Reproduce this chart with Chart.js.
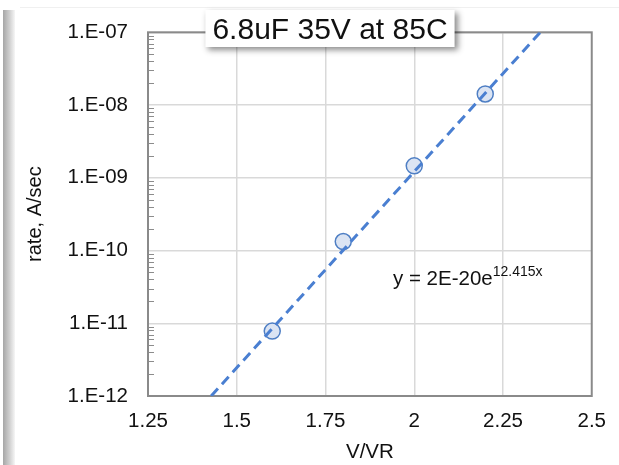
<!DOCTYPE html>
<html>
<head>
<meta charset="utf-8">
<script src="https://cdn.jsdelivr.net/npm/chart.js@4/dist/chart.umd.min.js"></script>
<style>
  html, body { margin: 0; padding: 0; background: #fff; }
  #wrap { position: relative; width: 619px; height: 465px; }
  #shade {
    position: absolute; left: 3px; top: 10px; width: 12px; height: 455px;
    background: linear-gradient(to right, #a6a6a6, #d4d4d4 60%, #f6f6f6);
  }
  #topline { position: absolute; left: 20px; top: 7px; width: 599px; height: 1px; background: #f0f0f0; }
  canvas { position: absolute; left: 0; top: 0; }
</style>
</head>
<body>
<div id="wrap">
  <div id="shade"></div>
  <div id="topline"></div>
  <canvas id="chart" width="619" height="465"></canvas>
</div>
<script>
// measured points (V/VR vs leakage rate)
const voltage = [1.6, 1.8, 2.0, 2.2];
const rate = [7.8e-12, 1.33e-10, 1.46e-9, 1.42e-8];

// exponential trendline, ends
const trendX = [1.428, 2.355];
const trendY = [1e-12, 1e-7];

const xTicks = [1.25, 1.5, 1.75, 2, 2.25, 2.5];
const yTicks = [1e-12, 1e-11, 1e-10, 1e-9, 1e-8, 1e-7];

const chartTitle = '6.8uF 35V at 85C';
const eqMain = 'y = 2E-20e';
const eqSup = '12.415x';

const FONT = "'Liberation Sans', Arial, sans-serif";

function sciLabel(v) {
    const e = Math.round(Math.log10(v));
    const sign = e < 0 ? '-' : '+';
    return '1.E' + sign + String(Math.abs(e)).padStart(2, '0');
}

const decorations = {
    id: 'decorations',
    beforeDatasetsDraw(chart) {
        const { ctx, chartArea: a, scales } = chart;
        const y = scales.y;
        ctx.save();
        // minor log ticks, pointing inward
        ctx.strokeStyle = '#8c8c8c';
        ctx.lineWidth = 1;
        for (let i = 0; i < yTicks.length - 1; i++) {
            for (let k = 2; k <= 9; k++) {
                const py = Math.round(y.getPixelForValue(yTicks[i] * k)) + 0.5;
                ctx.beginPath();
                ctx.moveTo(a.left, py);
                ctx.lineTo(a.left + 6, py);
                ctx.stroke();
            }
        }
        // plot frame
        ctx.strokeStyle = '#8a8a8a';
        ctx.lineWidth = 2;
        ctx.strokeRect(a.left, a.top, a.right - a.left, a.bottom - a.top);
        ctx.restore();
    },
    afterDraw(chart) {
        const { ctx, chartArea: a } = chart;
        ctx.save();
        // equation label
        ctx.fillStyle = '#111';
        ctx.textBaseline = 'alphabetic';
        ctx.font = '20.5px ' + FONT;
        const ex = a.left + 245, ey = 285;
        ctx.fillText(eqMain, ex, ey);
        const w = ctx.measureText(eqMain).width;
        ctx.font = '14px ' + FONT;
        ctx.fillText(eqSup, ex + w, ey - 9);

        // title box with shadow
        ctx.font = '30px ' + FONT;
        const tw = ctx.measureText(chartTitle).width;
        const cx = 330, bx = cx - tw / 2 - 7, by = 10, bw = tw + 14, bh = 37;
        ctx.shadowColor = 'rgba(0,0,0,0.45)';
        ctx.shadowBlur = 6;
        ctx.shadowOffsetX = 3;
        ctx.shadowOffsetY = 3;
        ctx.fillStyle = '#fff';
        ctx.fillRect(bx, by, bw, bh);
        ctx.shadowColor = 'transparent';
        ctx.fillStyle = '#111';
        ctx.textAlign = 'center';
        ctx.fillText(chartTitle, cx, 39);
        ctx.restore();
    }
};

new Chart(document.getElementById('chart'), {
    type: 'scatter',
    data: {
        datasets: [
            {
                label: 'trend',
                type: 'line',
                data: trendX.map((x, i) => ({ x: x, y: trendY[i] })),
                borderColor: '#4a7fd1',
                borderWidth: 3,
                borderDash: [10, 6],
                pointRadius: 0,
                fill: false,
                order: 0
            },
            {
                label: 'rate',
                data: voltage.map((x, i) => ({ x: x, y: rate[i] })),
                backgroundColor: '#dbe4f3',
                borderColor: '#4f7fc4',
                borderWidth: 1.5,
                pointRadius: 8,
                order: 1
            }
        ]
    },
    options: {
        responsive: false,
        animation: false,
        layout: { padding: { left: 0, top: 32, right: 18, bottom: 0 } },
        plugins: {
            legend: { display: false },
            tooltip: { enabled: false }
        },
        scales: {
            x: {
                type: 'linear',
                min: 1.25,
                max: 2.5,
                afterBuildTicks: s => { s.ticks = xTicks.map(v => ({ value: v })); },
                afterFit: s => { s.height = 69; },
                ticks: {
                    color: '#111',
                    font: { family: FONT, size: 20.5 },
                    padding: 13,
                    maxRotation: 0,
                    autoSkip: false,
                    callback: v => String(v)
                },
                grid: {
                    color: c => (c.tick && (c.tick.value === 1.25 || c.tick.value === 2.5)) ? 'rgba(0,0,0,0)' : '#d9d9d9',
                    lineWidth: 1.5,
                    drawTicks: false
                },
                border: { display: false },
                title: {
                    display: true,
                    text: 'V/VR',
                    color: '#111',
                    font: { family: FONT, size: 20.5 },
                    padding: { top: 0, bottom: 0 }
                }
            },
            y: {
                type: 'logarithmic',
                min: 1e-12,
                max: 1e-7,
                afterBuildTicks: s => { s.ticks = yTicks.map(v => ({ value: v })); },
                afterFit: s => { s.width = 148; },
                ticks: {
                    color: '#111',
                    font: { family: FONT, size: 20.5 },
                    padding: 20,
                    autoSkip: false,
                    callback: v => sciLabel(v)
                },
                grid: {
                    color: '#d9d9d9',
                    lineWidth: 1.5,
                    drawTicks: false
                },
                border: { display: false },
                title: {
                    display: true,
                    text: 'rate, A/sec',
                    color: '#111',
                    font: { family: FONT, size: 20 },
                    padding: { top: 23, bottom: 0 }
                }
            }
        }
    },
    plugins: [decorations]
});
</script>
</body>
</html>
